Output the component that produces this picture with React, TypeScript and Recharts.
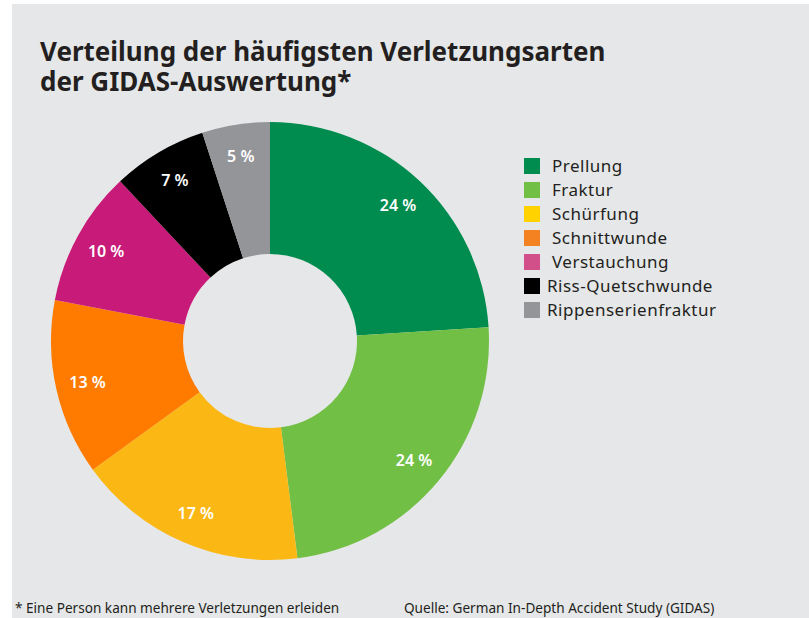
import { PieChart, Pie, Cell } from 'recharts';

const categories = ['Prellung', 'Fraktur', 'Schürfung', 'Schnittwunde', 'Verstauchung', 'Riss-Quetschwunde', 'Rippenserienfraktur'];
const values = [24, 24, 17, 13, 10, 7, 5];
const sliceColors = ['#008c4e', '#72bf45', '#fbb815', '#ff7b00', '#c81a78', '#000000', '#939598'];
const legendColors = ['#008c4e', '#72bf45', '#ffd200', '#f58220', '#d2508a', '#000000', '#939598'];
const titleLines = ['Verteilung der häufigsten Verletzungsarten', 'der GIDAS-Auswertung*'];

const data = categories.map((name, i) => ({ name, value: values[i] }));

const RADIAN = Math.PI / 180;
const FONT = '"Noto Sans", "Open Sans", sans-serif';

const renderLabel = ({ cx, cy, midAngle, value }: any) => {
  const r = 187;
  const x = cx + r * Math.cos(-midAngle * RADIAN);
  const y = cy + r * Math.sin(-midAngle * RADIAN);
  return (
    <text x={x} y={y} fill="#ffffff" textAnchor="middle" dominantBaseline="central"
      fontSize={16} fontWeight={600} fontFamily={FONT}>
      {`${value} %`}
    </text>
  );
};

export default function App() {
  return (
    <div style={{ position: 'absolute', left: 0, top: 0, width: 809, height: 618, background: '#ffffff', fontFamily: FONT, overflow: 'hidden' }}>
      <div style={{ position: 'absolute', left: 12, top: 4, width: 797, height: 614, background: '#e6e7e8' }} />

      {titleLines.map((line, i) => (
        <div key={line} style={{ position: 'absolute', left: 40, top: 38 + i * 30, fontSize: 26, fontWeight: 700, lineHeight: '26px', height: 26, color: '#231f20', whiteSpace: 'nowrap' }}>
          {line}
        </div>
      ))}

      <div style={{ position: 'absolute', left: 0, top: 0 }}>
        <PieChart width={809} height={618} margin={{ top: 0, right: 0, bottom: 0, left: 0 }}>
          <Pie
            data={data}
            dataKey="value"
            nameKey="name"
            cx={270}
            cy={341}
            innerRadius={87}
            outerRadius={219}
            startAngle={90}
            endAngle={-270}
            stroke="none"
            label={renderLabel}
            labelLine={false}
            isAnimationActive={false}
          >
            {data.map((d, i) => (
              <Cell key={d.name} fill={sliceColors[i]} />
            ))}
          </Pie>
        </PieChart>
      </div>

      {categories.map((name, i) => (
        <div key={name}>
          <div style={{ position: 'absolute', left: 524, top: 158 + i * 24, width: 16, height: 16, background: legendColors[i] }} />
          <div style={{ position: 'absolute', left: i < 5 ? 552 : 547, top: 166 + i * 24 - 12, height: 24, lineHeight: '24px', fontSize: 17, letterSpacing: 0.5, color: '#231f20', whiteSpace: 'nowrap' }}>
            {name}
          </div>
        </div>
      ))}

      <div style={{ position: 'absolute', left: 15, top: 598, fontSize: 13.6, color: '#231f20', whiteSpace: 'nowrap' }}>
        * Eine Person kann mehrere Verletzungen erleiden
      </div>
      <div style={{ position: 'absolute', left: 404, top: 598, fontSize: 13.6, color: '#231f20', whiteSpace: 'nowrap' }}>
        Quelle: German In-Depth Accident Study (GIDAS)
      </div>
    </div>
  );
}
